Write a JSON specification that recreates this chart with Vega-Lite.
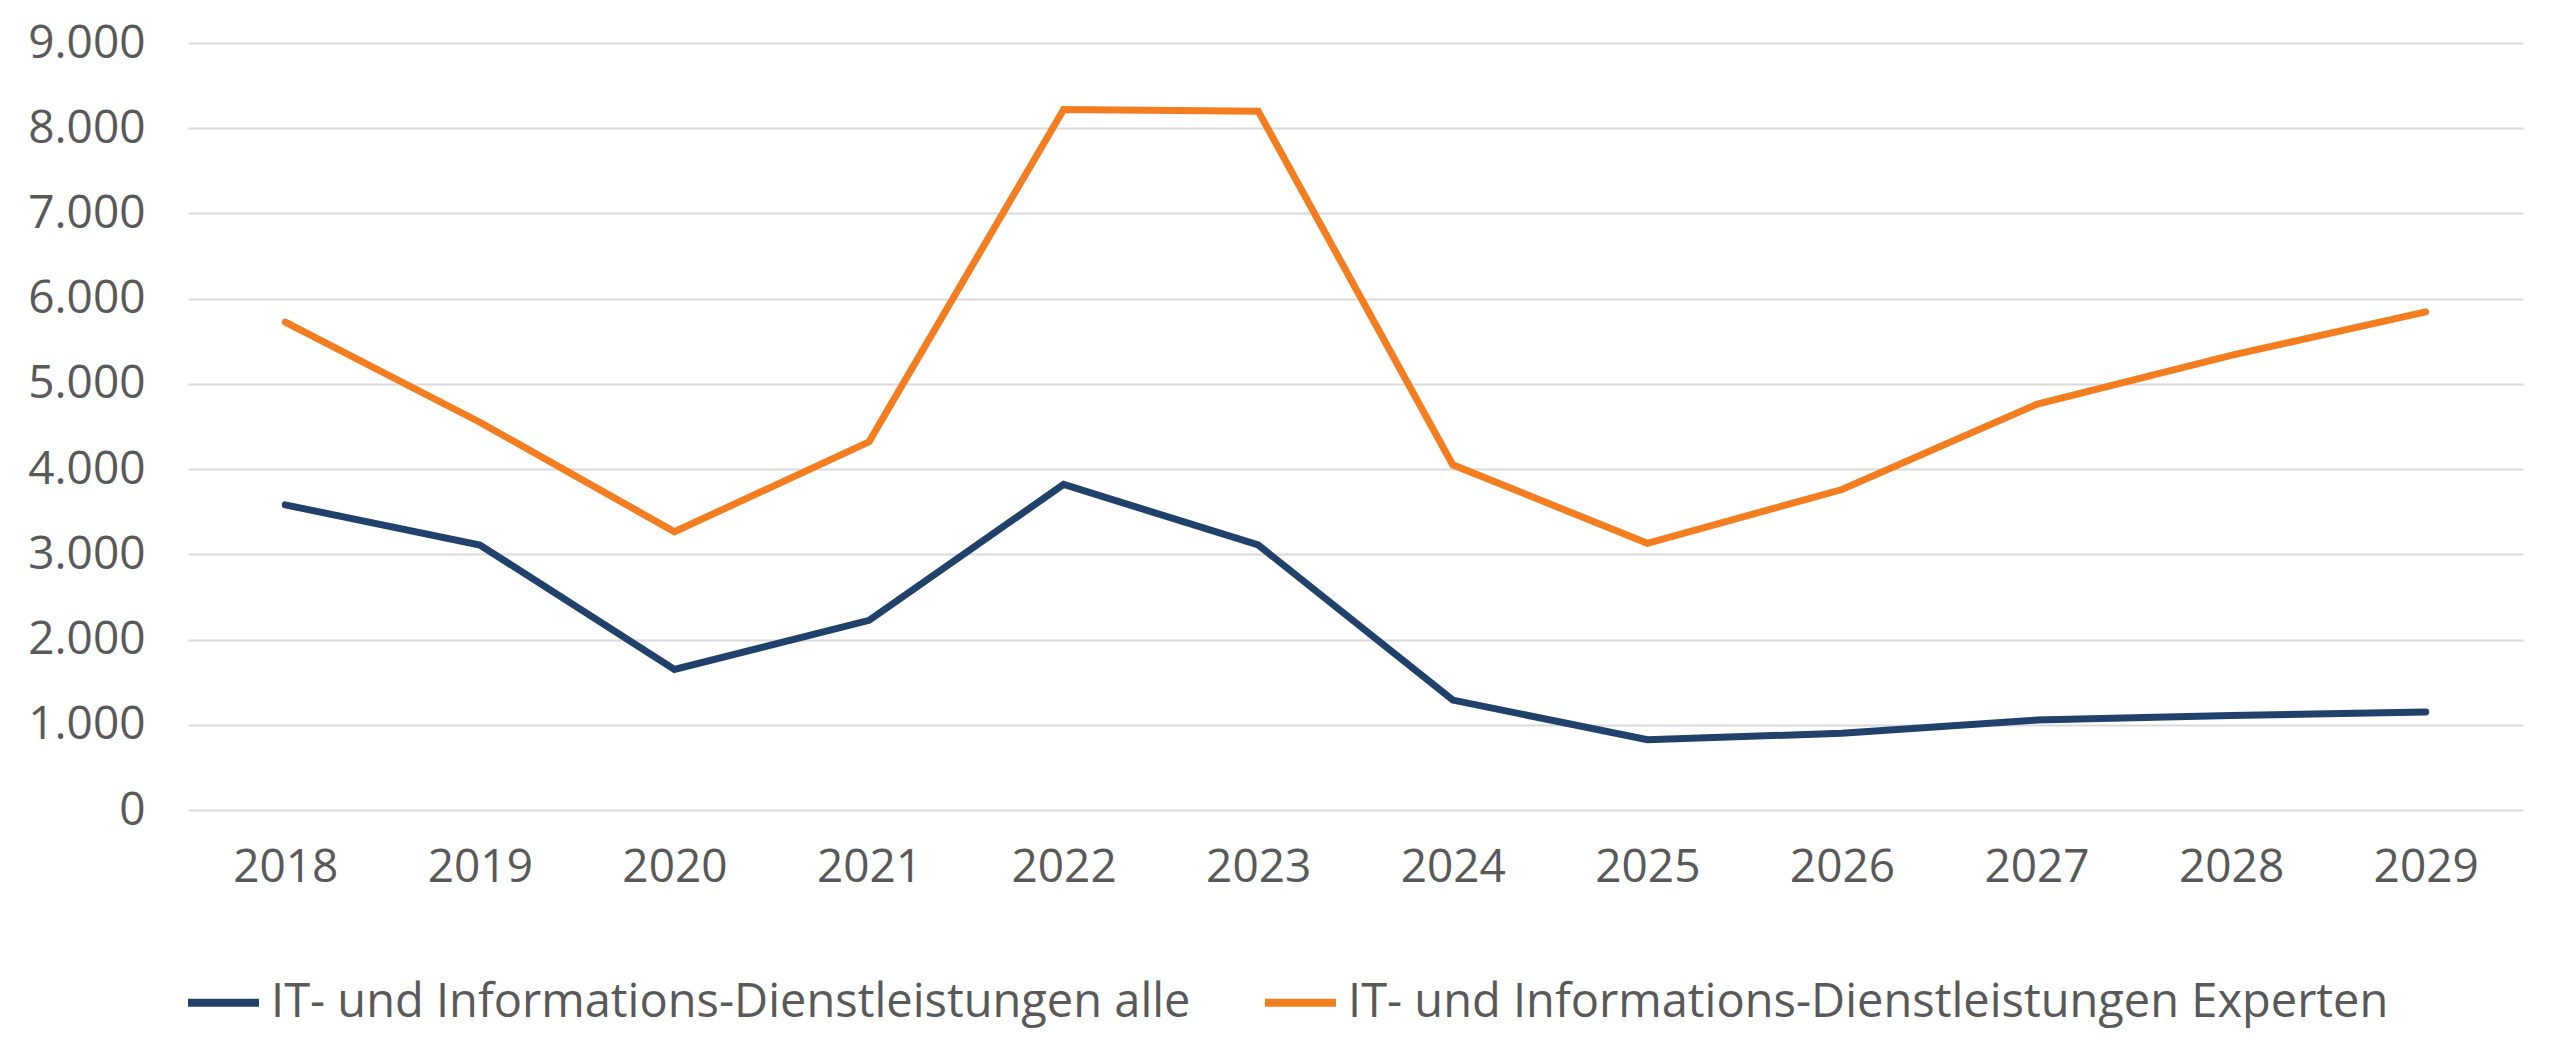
{
  "$schema": "https://vega.github.io/schema/vega-lite/v6.json",
  "autosize": {"type": "none"},
  "width": 2335,
  "height": 767,
  "padding": {"left": 188, "top": 43, "right": 37, "bottom": 253},
  "background": "white",
  "config": {
    "view": {"stroke": null},
    "locale": {
      "number": {"decimal": ",", "thousands": ".", "grouping": [3], "currency": ["", " €"]}
    },
    "axis": {
      "labelFont": "Open Sans",
      "labelFontSize": 46,
      "labelColor": "#595959",
      "ticks": false,
      "domain": false,
      "title": null
    },
    "legend": {
      "labelFont": "Open Sans",
      "labelFontSize": 47,
      "labelColor": "#595959",
      "labelLimit": 2000
    }
  },
  "data": {
    "values": [
      {"Jahr": "2018", "Reihe": "IT- und Informations-Dienstleistungen alle", "Wert": 3580},
      {"Jahr": "2019", "Reihe": "IT- und Informations-Dienstleistungen alle", "Wert": 3110},
      {"Jahr": "2020", "Reihe": "IT- und Informations-Dienstleistungen alle", "Wert": 1650},
      {"Jahr": "2021", "Reihe": "IT- und Informations-Dienstleistungen alle", "Wert": 2225},
      {"Jahr": "2022", "Reihe": "IT- und Informations-Dienstleistungen alle", "Wert": 3820},
      {"Jahr": "2023", "Reihe": "IT- und Informations-Dienstleistungen alle", "Wert": 3110},
      {"Jahr": "2024", "Reihe": "IT- und Informations-Dienstleistungen alle", "Wert": 1290},
      {"Jahr": "2025", "Reihe": "IT- und Informations-Dienstleistungen alle", "Wert": 825},
      {"Jahr": "2026", "Reihe": "IT- und Informations-Dienstleistungen alle", "Wert": 900},
      {"Jahr": "2027", "Reihe": "IT- und Informations-Dienstleistungen alle", "Wert": 1055},
      {"Jahr": "2028", "Reihe": "IT- und Informations-Dienstleistungen alle", "Wert": 1110},
      {"Jahr": "2029", "Reihe": "IT- und Informations-Dienstleistungen alle", "Wert": 1150},
      {"Jahr": "2018", "Reihe": "IT- und Informations-Dienstleistungen Experten", "Wert": 5725},
      {"Jahr": "2019", "Reihe": "IT- und Informations-Dienstleistungen Experten", "Wert": 4550},
      {"Jahr": "2020", "Reihe": "IT- und Informations-Dienstleistungen Experten", "Wert": 3265},
      {"Jahr": "2021", "Reihe": "IT- und Informations-Dienstleistungen Experten", "Wert": 4320},
      {"Jahr": "2022", "Reihe": "IT- und Informations-Dienstleistungen Experten", "Wert": 8220},
      {"Jahr": "2023", "Reihe": "IT- und Informations-Dienstleistungen Experten", "Wert": 8200},
      {"Jahr": "2024", "Reihe": "IT- und Informations-Dienstleistungen Experten", "Wert": 4050},
      {"Jahr": "2025", "Reihe": "IT- und Informations-Dienstleistungen Experten", "Wert": 3130},
      {"Jahr": "2026", "Reihe": "IT- und Informations-Dienstleistungen Experten", "Wert": 3760},
      {"Jahr": "2027", "Reihe": "IT- und Informations-Dienstleistungen Experten", "Wert": 4760},
      {"Jahr": "2028", "Reihe": "IT- und Informations-Dienstleistungen Experten", "Wert": 5335},
      {"Jahr": "2029", "Reihe": "IT- und Informations-Dienstleistungen Experten", "Wert": 5845}
    ]
  },
  "mark": {"type": "line", "strokeWidth": 7, "strokeCap": "round", "strokeJoin": "miter"},
  "encoding": {
    "x": {
      "field": "Jahr",
      "type": "ordinal",
      "scale": {"type": "point", "padding": 0.5},
      "axis": {"labelAngle": 0, "labelPadding": 35, "grid": false}
    },
    "y": {
      "field": "Wert",
      "type": "quantitative",
      "scale": {"domain": [0, 9000], "nice": false},
      "axis": {
        "values": [0, 1000, 2000, 3000, 4000, 5000, 6000, 7000, 8000, 9000],
        "format": ",d",
        "labelPadding": 43,
        "grid": true,
        "gridColor": "#d9d9d9",
        "gridWidth": 2
      }
    },
    "color": {
      "field": "Reihe",
      "type": "nominal",
      "title": null,
      "scale": {
        "domain": ["IT- und Informations-Dienstleistungen alle", "IT- und Informations-Dienstleistungen Experten"],
        "range": ["#1F416B", "#F47D20"]
      },
      "legend": {
        "orient": "none",
        "direction": "horizontal",
        "legendX": -4,
        "legendY": 920,
        "symbolType": "stroke",
        "symbolSize": 5041,
        "symbolStrokeWidth": 8,
        "labelOffset": 8,
        "columnPadding": 58
      }
    }
  }
}
